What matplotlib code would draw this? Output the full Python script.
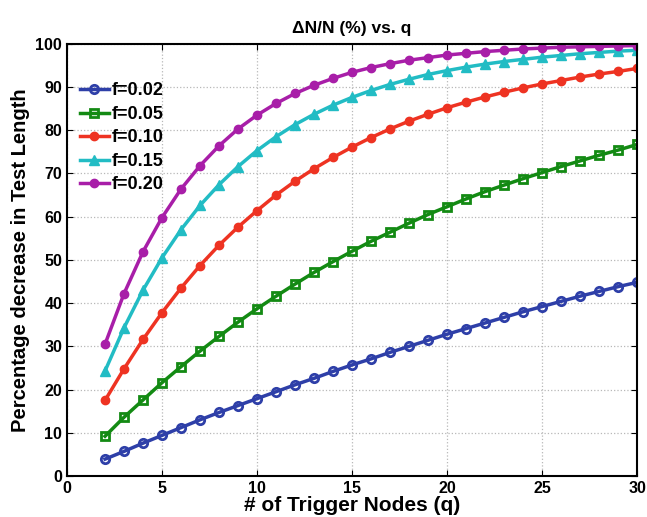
import matplotlib
matplotlib.use('Agg')
import matplotlib.pyplot as plt

plt.rcParams['font.family'] = ['Liberation Sans', 'DejaVu Sans']

q = list(range(2, 31))

f002 = [3.9, 5.7, 7.6, 9.4, 11.2, 13.0, 14.7, 16.3, 17.9, 19.5, 21.1, 22.6, 24.2, 25.7,
        27.1, 28.6, 30.0, 31.4, 32.8, 34.1, 35.4, 36.7, 38.0, 39.2, 40.4, 41.6, 42.7, 43.8, 44.8]
f005 = [9.2, 13.6, 17.6, 21.6, 25.3, 28.9, 32.3, 35.6, 38.7, 41.6, 44.4, 47.1, 49.6, 52.0,
        54.3, 56.4, 58.5, 60.5, 62.3, 64.1, 65.8, 67.3, 68.8, 70.2, 71.6, 72.9, 74.2, 75.4, 76.7]
f010 = [17.5, 24.8, 31.6, 37.8, 43.5, 48.7, 53.4, 57.6, 61.4, 65.0, 68.2, 71.1, 73.7, 76.1,
        78.3, 80.3, 82.1, 83.7, 85.2, 86.5, 87.7, 88.8, 89.8, 90.7, 91.5, 92.3, 93.0, 93.6, 94.3]
f015 = [24.3, 34.3, 43.0, 50.5, 57.0, 62.6, 67.4, 71.6, 75.3, 78.5, 81.3, 83.7, 85.8, 87.6,
        89.2, 90.6, 91.8, 92.9, 93.8, 94.6, 95.3, 95.9, 96.4, 96.9, 97.3, 97.7, 98.0, 98.3, 98.5]
f020 = [30.5, 42.2, 51.9, 59.8, 66.4, 71.8, 76.4, 80.3, 83.5, 86.2, 88.5, 90.4, 92.0, 93.4,
        94.5, 95.4, 96.2, 96.8, 97.4, 97.8, 98.2, 98.5, 98.8, 99.0, 99.2, 99.3, 99.4, 99.5, 99.6]

labels = ['f=0.02', 'f=0.05', 'f=0.10', 'f=0.15', 'f=0.20']

fig = plt.figure(figsize=(6.47, 5.17), dpi=100)
ax = fig.add_axes([0.1036, 0.0793, 0.881, 0.836])

ax.plot(q, f002, color='#2e3fa8', lw=2.5, marker='o', ms=6, mfc='none', mew=2, label=labels[0])
ax.plot(q, f005, color='#138a13', lw=2.5, marker='s', ms=6, mfc='none', mew=2, label=labels[1])
ax.plot(q, f010, color='#ee3322', lw=2.5, marker='o', ms=6, label=labels[2])
ax.plot(q, f015, color='#22bcc4', lw=2.5, marker='^', ms=7, label=labels[3])
ax.plot(q, f020, color='#a81ea8', lw=2.5, marker='o', ms=6, label=labels[4])

ax.set_xlim(0, 30)
ax.set_ylim(0, 100)
ax.set_xticks(range(0, 31, 5))
ax.set_yticks(range(0, 101, 10))
ax.grid(True, linestyle=':', color='#b8b8b8', lw=0.9)
ax.tick_params(direction='in', top=True, right=True, labelsize=11.5, length=4)
for t in ax.get_xticklabels() + ax.get_yticklabels():
    t.set_fontweight('bold')
for s in ax.spines.values():
    s.set_linewidth(1.5)

ax.set_xlabel('# of Trigger Nodes (q)', fontsize=15, fontweight='bold', labelpad=0)
ax.set_ylabel('Percentage decrease in Test Length', fontsize=14.5, fontweight='bold', labelpad=4)
ax.set_title('ΔN/N (%) vs. q', fontsize=12.5, fontweight='bold', pad=8)

leg = ax.legend(loc='upper left', bbox_to_anchor=(0.0, 0.94), frameon=False,
                prop={'weight': 'bold', 'size': 13}, handlelength=1.6,
                handletextpad=0.2, labelspacing=0.36, borderaxespad=0.3)

fig.savefig('out.png', dpi=100)
